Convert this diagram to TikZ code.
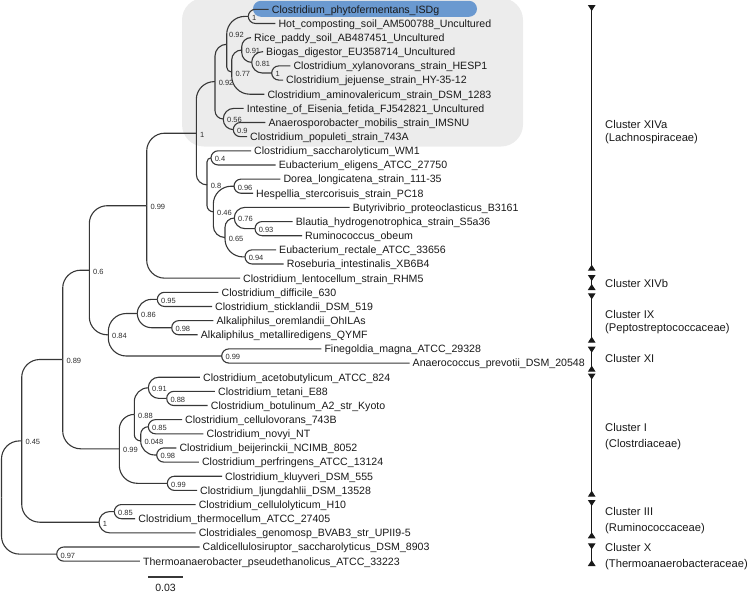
\documentclass[tikz,border=0pt]{standalone}
\usepackage{fontspec}
\setmainfont{Liberation Sans}
\usetikzlibrary{arrows.meta,calc}
\definecolor{treecol}{RGB}{55,55,55}
\definecolor{leafcol}{RGB}{25,25,25}
\definecolor{supcol}{RGB}{45,45,45}
\definecolor{boxgray}{RGB}{236,236,236}
\definecolor{hiblue}{RGB}{106,153,208}
\newcommand{\branchto}[2]{%
  \draw[edge] let \p1=(#1), \p2=(#2),
    \n1={min(18,abs(\y2-\y1),abs(\x2-\x1))} in
    [rounded corners=\n1] (\p1) |- (\p2);}
\begin{document}
\begin{tikzpicture}[x=1pt,y=-1pt,
  edge/.style={draw=treecol, line width=1.1pt},
  leaf/.style={anchor=west, inner xsep=3pt, inner ysep=0pt, text height=7.7pt, text depth=0pt,
    font=\fontsize{10.6}{12}\selectfont, text=leafcol},
  sup/.style={anchor=west, inner sep=0pt, text height=5.4pt, text depth=0pt,
    font=\fontsize{7.5}{9}\selectfont, text=supcol},
  clab/.style={anchor=west, inner sep=0pt, text height=8.1pt, text depth=0pt,
    font=\fontsize{11.2}{13}\selectfont, text=leafcol},
  bar/.style={draw=leafcol, line width=1.1pt,
    {Triangle[reversed,width=7.5pt,length=6pt]}-{Triangle[reversed,width=7.5pt,length=6pt]}}]
\useasboundingbox (0,0) rectangle (750,592);
% backgrounds
\fill[boxgray, rounded corners=22pt] (182,-2) rectangle (523,146.5);
\fill[hiblue, rounded corners=8pt] (253,0.8) rectangle (477,16.8);
% leaves
\node[leaf] (L0) at (268.7,9.3) {Clostridium\_phytofermentans\_ISDg};
\node[leaf] (L1) at (275.3,23.45) {Hot\_composting\_soil\_AM500788\_Uncultured};
\node[leaf] (L2) at (251,37.6) {Rice\_paddy\_soil\_AB487451\_Uncultured};
\node[leaf] (L3) at (263,51.75) {Biogas\_digestor\_EU358714\_Uncultured};
\node[leaf] (L4) at (290.3,65.9) {Clostridium\_xylanovorans\_strain\_HESP1};
\node[leaf] (L5) at (283,80.05) {Clostridium\_jejuense\_strain\_HY-35-12};
\node[leaf] (L6) at (264.3,94.2) {Clostridium\_aminovalericum\_strain\_DSM\_1283};
\node[leaf] (L7) at (243.7,108.35) {Intestine\_of\_Eisenia\_fetida\_FJ542821\_Uncultured};
\node[leaf] (L8) at (265.3,122.5) {Anaerosporobacter\_mobilis\_strain\_IMSNU};
\node[leaf] (L9) at (247,136.65) {Clostridium\_populeti\_strain\_743A};
\node[leaf] (L10) at (251,150.8) {Clostridium\_saccharolyticum\_WM1};
\node[leaf] (L11) at (275.7,164.95) {Eubacterium\_eligens\_ATCC\_27750};
\node[leaf] (L12) at (280.3,179.1) {Dorea\_longicatena\_strain\_111-35};
\node[leaf] (L13) at (253,193.25) {Hespellia\_stercorisuis\_strain\_PC18};
\node[leaf] (L14) at (349.7,207.4) {Butyrivibrio\_proteoclasticus\_B3161};
\node[leaf] (L15) at (292.7,221.55) {Blautia\_hydrogenotrophica\_strain\_S5a36};
\node[leaf] (L16) at (302,235.7) {Ruminococcus\_obeum};
\node[leaf] (L17) at (276,249.85) {Eubacterium\_rectale\_ATCC\_33656};
\node[leaf] (L18) at (283.7,264) {Roseburia\_intestinalis\_XB6B4};
\node[leaf] (L19) at (240,278.15) {Clostridium\_lentocellum\_strain\_RHM5};
\node[leaf] (L20) at (218.4,292.3) {Clostridium\_difficile\_630};
\node[leaf] (L21) at (212,306.45) {Clostridium\_sticklandii\_DSM\_519};
\node[leaf] (L22) at (213.4,320.6) {Alkaliphilus\_oremlandii\_OhILAs};
\node[leaf] (L23) at (197.7,334.75) {Alkaliphilus\_metalliredigens\_QYMF};
\node[leaf] (L24) at (321.3,348.9) {Finegoldia\_magna\_ATCC\_29328};
\node[leaf] (L25) at (409.5,363.05) {Anaerococcus\_prevotii\_DSM\_20548};
\node[leaf] (L26) at (199.9,377.2) {Clostridium\_acetobutylicum\_ATCC\_824};
\node[leaf] (L27) at (214.9,391.35) {Clostridium\_tetani\_E88};
\node[leaf] (L28) at (207.7,405.5) {Clostridium\_botulinum\_A2\_str\_Kyoto};
\node[leaf] (L29) at (182,419.65) {Clostridium\_cellulovorans\_743B};
\node[leaf] (L30) at (203.4,433.8) {Clostridium\_novyi\_NT};
\node[leaf] (L31) at (176.3,447.95) {Clostridium\_beijerinckii\_NCIMB\_8052};
\node[leaf] (L32) at (198.8,462.1) {Clostridium\_perfringens\_ATCC\_13124};
\node[leaf] (L33) at (222,476.25) {Clostridium\_kluyveri\_DSM\_555};
\node[leaf] (L34) at (197,490.4) {Clostridium\_ljungdahlii\_DSM\_13528};
\node[leaf] (L35) at (195.6,504.55) {Clostridium\_cellulolyticum\_H10};
\node[leaf] (L36) at (135.2,518.7) {Clostridium\_thermocellum\_ATCC\_27405};
\node[leaf] (L37) at (195.6,532.85) {Clostridiales\_genomosp\_BVAB3\_str\_UPII9-5};
\node[leaf] (L38) at (199.5,547) {Caldicellulosiruptor\_saccharolyticus\_DSM\_8903};
\node[leaf] (L39) at (139.9,561.15) {Thermoanaerobacter\_pseudethanolicus\_ATCC\_33223};
% internal nodes
\coordinate (nph) at (248.3,16.4);
\coordinate (nxj) at (271.7,73);
\coordinate (n081) at (251.7,62.4);
\coordinate (n091) at (241.7,50);
\coordinate (n077) at (231.7,72.1);
\coordinate (n092u) at (226.7,44.25);
\coordinate (n09) at (233.3,129.6);
\coordinate (n056) at (223.3,119);
\coordinate (n092l) at (215,81.6);
\coordinate (n04) at (211,157.9);
\coordinate (n096) at (234,186.2);
\coordinate (n093) at (255,228.6);
\coordinate (n076) at (234.3,218);
\coordinate (n094) at (245,256.9);
\coordinate (n065) at (225,237.5);
\coordinate (n046) at (213.3,211.8);
\coordinate (n08) at (207,184.9);
\coordinate (nL1) at (196.3,133.2);
\coordinate (n099a) at (146.7,205.7);
\coordinate (n095) at (157.3,299.4);
\coordinate (n098a) at (171.7,327.7);
\coordinate (n086) at (137.3,313.5);
\coordinate (n099b) at (221.7,356);
\coordinate (n084) at (108.3,334.8);
\coordinate (n06) at (89.3,270.2);
\coordinate (n088t) at (166.7,398.4);
\coordinate (n091b) at (148.3,387.8);
\coordinate (n085a) at (148.3,426.7);
\coordinate (n098b) at (156.7,455);
\coordinate (n0048) at (140.7,440.9);
\coordinate (n088b) at (134.3,414.4);
\coordinate (n099k) at (167.3,483.3);
\coordinate (n099c) at (119.3,448.8);
\coordinate (n089) at (62.7,359.5);
\coordinate (n085c) at (114.3,511.6);
\coordinate (n1c) at (99,522.2);
\coordinate (n045) at (21.7,440.9);
\coordinate (n097) at (56.7,554.1);
\coordinate (root) at (1.5,497.5);
% branches
\foreach \A/\B in {root/n045, root/n097, n045/n089, n045/n1c, n089/n06, n089/n099c,
  n06/n099a, n06/n084, n099a/nL1, nL1/n092l, nL1/n08, n092l/n092u, n092l/n056,
  n092u/nph, n092u/n077, n077/n091, n091/n081, n081/nxj, n056/n09, n08/n04, n08/n046,
  n046/n096, n046/n065, n065/n076, n065/n094, n076/n093, n084/n086, n084/n099b,
  n086/n095, n086/n098a, n099c/n088b, n099c/n099k, n088b/n091b, n088b/n0048,
  n091b/n088t, n0048/n085a, n0048/n098b, n1c/n085c}
  {\branchto{\A}{\B}}
\foreach \A/\B in {nph/L0, nph/L1, n077/L6, n091/L2, n081/L3, nxj/L4, nxj/L5,
  n056/L7, n09/L8, n09/L9, n04/L10, n04/L11, n096/L12, n096/L13, n076/L14,
  n093/L15, n093/L16, n094/L17, n094/L18, n099a/L19, n095/L20, n095/L21,
  n098a/L22, n098a/L23, n099b/L24, n099b/L25, n091b/L26, n088t/L27, n088t/L28,
  n085a/L29, n085a/L30, n098b/L31, n098b/L32, n099k/L33, n099k/L34,
  n085c/L35, n085c/L36, n1c/L37, n097/L38, n097/L39}
  {\branchto{\A}{\B.west}}
% support values
\foreach \N/\T in {nph/1, nxj/1, n081/0.81, n091/0.91, n077/0.77, n09/0.9, n056/0.56,
  n092l/0.92, n04/0.4, n096/0.96, n093/0.93, n076/0.76, n094/0.94, n065/0.65, n046/0.46,
  n08/0.8, nL1/1, n099a/0.99, n095/0.95, n098a/0.98, n086/0.86, n099b/0.99, n084/0.84,
  n06/0.6, n088t/0.88, n091b/0.91, n085a/0.85, n098b/0.98, n0048/0.048, n088b/0.88,
  n099k/0.99, n099c/0.99, n089/0.89, n085c/0.85, n1c/1, n045/0.45, n097/0.97}
  {\node[sup] at ([xshift=3.6pt,yshift=-1.2pt]\N) {\T};}
\node[sup] (s092u) at (229,35) {0.92};
% cluster bars
\coordinate (a1) at (591.7,5);     \coordinate (a2) at (591.7,270.7);
\coordinate (b1) at (591.7,275);   \coordinate (b2) at (591.7,290);
\coordinate (c1) at (591.7,293.3); \coordinate (c2) at (591.7,342.7);
\coordinate (d1) at (591.7,346.7); \coordinate (d2) at (591.7,371.7);
\coordinate (e1) at (591.7,373.5); \coordinate (e2) at (591.7,496.7);
\coordinate (f1) at (591.7,500);   \coordinate (f2) at (591.7,538.3);
\coordinate (g1) at (591.7,543.3); \coordinate (g2) at (591.7,566);
\foreach \u/\v in {a1/a2, b1/b2, c1/c2, d1/d2, e1/e2, f1/f2, g1/g2}
  {\draw[bar] (\u) -- (\v);}
\node[clab] (k1) at (605,124) {Cluster XIVa};
\node[clab] (k1b) at (605,137.3) {(Lachnospiraceae)};
\node[clab] (k2) at (605,283.3) {Cluster XIVb};
\node[clab] (k3) at (605,314) {Cluster IX};
\node[clab] (k3b) at (605,327.7) {(Peptostreptococcaceae)};
\node[clab] (k4) at (605,358.3) {Cluster XI};
\node[clab] (k5) at (605,427.3) {Cluster I};
\node[clab] (k5b) at (605,443.5) {(Clostrdiaceae)};
\node[clab] (k6) at (605,511.7) {Cluster III};
\node[clab] (k6b) at (605,527.3) {(Ruminococcaceae)};
\node[clab] (k7) at (605,547.7) {Cluster X};
\node[clab] (k7b) at (605,563.3) {(Thermoanaerobacteraceae)};
% scale bar
\coordinate (sb1) at (148,577); \coordinate (sb2) at (183,577);
\draw[edge] (sb1) -- (sb2);
\node[anchor=center, inner sep=0pt, text height=7.6pt, text depth=0pt,
  font=\fontsize{10.5}{12}\selectfont, text=leafcol] (sbl) at (165.5,587.3) {0.03};
\end{tikzpicture}
\end{document}
